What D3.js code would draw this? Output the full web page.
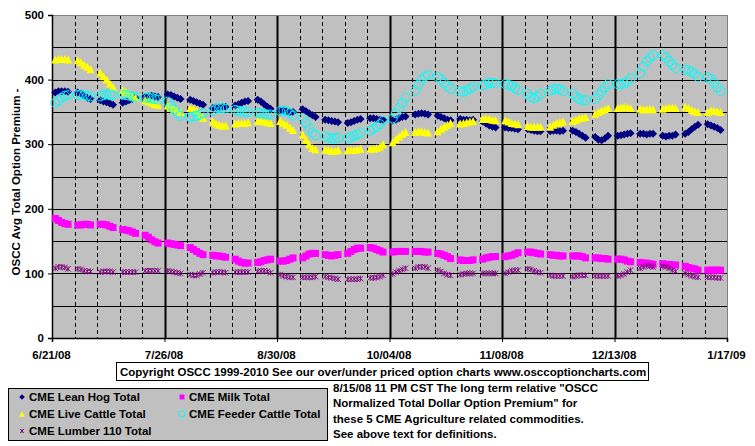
<!DOCTYPE html>
<html><head><meta charset="utf-8">
<script src="https://cdn.jsdelivr.net/npm/d3@7"></script>
<style>
html,body{margin:0;padding:0;background:#fff;}
svg text{font-family:"Liberation Sans",Arial,sans-serif;font-weight:bold;font-size:11.5px;fill:#000;}
</style></head>
<body><svg id="c" width="755" height="446"></svg>
<script>
// ---- data (5 trading-day values per week, 30 weeks from 6/21/08) ----
const startDate = "2008-06-21";
const endDate = "2009-01-17";
const xTickLabels = ["6/21/08","7/26/08","8/30/08","10/04/08","11/08/08","12/13/08","1/17/09"];
const yTickLabels = [0,100,200,300,400,500];

const leanHog = [
 380,382,382,382,381, 380,378,375,372,370, 368,366,365,363,361, 364,366,368,370,372,
 373,374,375,374,373, 377,376,374,372,370, 369,367,365,363,361, 356,357,357,358,358,
 360,362,364,366,367, 369,366,362,358,355, 352,352,351,350,350, 354,351,348,345,342,
 338,337,336,335,334, 333,334,336,338,339, 340,340,339,338,338, 337,338,340,342,343,
 346,347,348,347,346, 344,342,340,338,337, 339,338,338,337,338, 335,332,329,327,326,
 326,325,325,324,323, 323,322,321,320,320, 320,321,321,320,321, 321,319,316,313,310,
 311,307,306,309,313, 313,314,315,316,317, 316,316,315,316,316, 313,312,313,313,315,
 316,319,323,327,330, 331,329,327,325,322];
const milk = [
 185,182,179,177,176, 175,175,176,176,175, 176,176,175,173,171, 168,167,166,164,162,
 159,156,152,149,147, 147,146,145,144,143, 140,137,134,131,129, 128,127,127,126,125,
 122,119,117,116,116, 117,118,120,121,122, 119,119,120,122,124, 124,127,130,131,131,
 129,128,127,128,129, 131,134,137,139,139, 140,139,137,135,133, 133,134,134,134,134,
 134,134,134,133,133, 131,130,128,126,123, 121,120,120,120,121, 122,124,125,126,126,
 126,127,128,130,132, 133,133,132,131,130, 129,128,128,127,127, 127,127,127,126,124,
 124,124,123,123,122, 122,122,121,119,118, 117,116,116,115,114, 115,114,114,113,113,
 111,109,108,107,105, 105,105,105,105,105];
const liveCattle = [
 431,432,432,432,431, 430,427,423,420,416, 411,405,400,394,388, 384,381,378,375,372,
 368,366,364,362,361, 360,357,355,353,350, 356,355,352,346,341, 336,332,330,329,329,
 332,333,333,333,334, 336,336,335,334,333, 336,333,330,326,322, 315,307,300,294,292,
 292,291,290,290,291, 291,291,291,292,293, 293,293,294,296,300, 303,308,312,316,319,
 319,320,320,319,318, 320,324,327,330,333, 332,333,334,335,336, 339,340,339,338,337,
 337,335,333,332,331, 328,327,327,327,327, 327,330,333,334,335, 336,338,340,341,342,
 347,350,352,354,356, 356,357,358,357,356, 355,354,354,355,354, 355,356,357,357,356,
 358,356,353,351,350, 350,352,352,351,350];
const feederCattle = [
 364,368,372,375,376, 376,377,376,375,374, 374,376,377,377,376, 377,376,375,374,373,
 372,372,371,370,369, 366,360,354,348,344, 342,343,344,346,348, 352,355,356,356,355,
 353,352,351,350,350, 349,348,347,346,346, 351,352,351,348,344, 340,333,325,318,314,
 312,310,309,309,310, 309,311,313,315,318, 321,324,327,331,336, 340,348,356,364,372,
 383,392,400,405,407, 404,400,395,390,386, 382,381,383,386,389, 391,393,395,395,394,
 393,392,390,387,384, 378,373,371,374,378, 383,385,386,385,382, 378,374,370,368,368,
 370,376,382,388,393, 393,393,394,397,402, 410,420,428,434,438, 438,434,428,423,418,
 415,414,412,409,404, 404,401,395,388,382];
const lumber = [
 108,110,110,109,107, 107,106,104,103,103, 102,103,103,103,102, 102,102,102,102,102,
 104,104,104,104,104, 104,103,102,101,100,  98, 97, 97, 99,101, 101,102,102,102,101,
 102,102,102,102,102, 103,104,104,103,101,  98, 96, 95, 94, 94,  94, 94, 94, 94, 95,
  95, 94, 93, 92, 91,  91, 91, 91, 91, 92,  93, 93, 94, 95, 97,  99,102,104,106,108,
 108,110,110,110,108, 105,103,100, 98, 97,  98, 99,100,100,100, 100,100,100,100,100,
 100,102,104,105,105, 107,106,104,102,101,  97, 96, 96, 96, 96,  95, 96, 97, 97, 97,
  96, 96, 96, 96, 96,  96, 97, 99,102,105, 108,110,112,111,110, 111,110,108,105,103,
 100, 98, 96, 95, 94,  94, 94, 94, 93, 93];

const seriesNames = ["CME Lean Hog Total","CME Milk Total","CME Live Cattle Total","CME Feeder Cattle Total","CME Lumber 110 Total"];
const noteLines = [
 "8/15/08 11 PM CST The long term relative \"OSCC",
 "Normalized Total Dollar Option Premium\" for",
 "these 5 CME Agriculture related commodities.",
 "See above text for definitions."];
const copyrightText = "Copyright OSCC 1999-2010 See our over/under priced option charts www.osccoptioncharts.com";

// ---- chart ----
const parse = d3.utcParse("%Y-%m-%d");
const d0 = parse(startDate), d1 = parse(endDate);
const dates = [];
for (let w = 0; w < 30; w++) for (let k = 1; k <= 5; k++) dates.push(d3.utcDay.offset(d0, w*7 + k));

const svg = d3.select("#c");
const L = 52, R = 727, T = 15, B = 338;
const x = d3.scaleUtc().domain([d0, d1]).range([L, R]);
const y = d3.scaleLinear().domain([0, 500]).range([B, T]);

svg.append("rect").attr("x", L).attr("y", T).attr("width", R-L).attr("height", B-T).attr("fill", "#C0C0C0");

const weekLines = d3.utcDay.range(d3.utcDay.offset(d0,7), d1, 7);
weekLines.forEach((d, i) => {
  const major = (i + 1) % 5 === 0;
  svg.append("line").attr("x1", Math.round(x(d)) + 0.5).attr("x2", Math.round(x(d)) + 0.5)
    .attr("y1", T).attr("y2", B).attr("stroke", "#000")
    .attr("stroke-width", major ? 2 : 1).attr("stroke-dasharray", major ? null : "4,3");
});
d3.range(50, 500, 50).forEach(v => {
  svg.append("line").attr("x1", L).attr("x2", R).attr("y1", Math.round(y(v)) + 0.5).attr("y2", Math.round(y(v)) + 0.5)
    .attr("stroke", "#000").attr("stroke-width", 1);
});
svg.append("line").attr("x1", L).attr("x2", R).attr("y1", T + 0.5).attr("y2", T + 0.5).attr("stroke", "#808080");
svg.append("line").attr("x1", R + 0.5).attr("x2", R + 0.5).attr("y1", T).attr("y2", B).attr("stroke", "#808080");

const yAxis = d3.axisLeft(y).tickValues(yTickLabels).tickSize(4).tickPadding(4).tickFormat(d3.format("d"));
const gy = svg.append("g").attr("transform", `translate(${L},0)`).call(yAxis);
gy.select(".domain").attr("stroke", "#000").attr("stroke-width", 1.5);
gy.selectAll("text").style("font-size", "11.5px").style("font-weight", "bold").style("font-family", "Liberation Sans, Arial");

const xTickDates = d3.utcDay.range(d0, d3.utcDay.offset(d1, 1), 35);
const xAxis = d3.axisBottom(x).tickValues(xTickDates).tickSize(4).tickPadding(9)
  .tickFormat((d, i) => xTickLabels[i]);
const gx = svg.append("g").attr("transform", `translate(0,${B})`).call(xAxis);
gx.select(".domain").attr("stroke", "#000").attr("stroke-width", 1.5);
gx.selectAll("text").style("font-size", "11.5px").style("font-weight", "bold").style("font-family", "Liberation Sans, Arial").attr("dx", "-1px");

svg.append("text").attr("transform", "translate(20,182) rotate(-90)").attr("text-anchor", "middle")
  .text("OSCC Avg Total Option Premium -");

function diamond(s){ return `M0,${-s}L${s},0L0,${s}L${-s},0Z`; }
function square(s){ return `M${-s},${-s}H${s}V${s}H${-s}Z`; }
function triangle(s){ return `M0,${-s}L${s},${s}L${-s},${s}Z`; }
function star(s){ return `M${-s},${-s}L${s},${s}M${-s},${s}L${s},${-s}M0,${-s}V${s}`; }

const series = [
  {name: seriesNames[0], vals: leanHog, type: "diamond", color: "#000080"},
  {name: seriesNames[1], vals: milk, type: "square", color: "#FF00FF"},
  {name: seriesNames[2], vals: liveCattle, type: "triangle", color: "#FFFF00"},
  {name: seriesNames[3], vals: feederCattle, type: "circle", color: "#00FFFF"},
  {name: seriesNames[4], vals: lumber, type: "star", color: "#800080"}
];

function drawMarker(g, type, color, cx, cy, big) {
  const k = big ? 1 : 0.7;
  if (type === "diamond") g.append("path").attr("d", diamond(4*k)).attr("transform", `translate(${cx},${cy})`).attr("fill", color);
  else if (type === "square") g.append("path").attr("d", square(3.5*k)).attr("transform", `translate(${cx},${cy})`).attr("fill", color);
  else if (type === "triangle") g.append("path").attr("d", triangle(4*k)).attr("transform", `translate(${cx},${cy})`).attr("fill", color);
  else if (type === "circle") g.append("circle").attr("cx", cx).attr("cy", cy).attr("r", 4.5*k).attr("fill", "none").attr("stroke", color).attr("stroke-width", 1);
  else if (type === "star") g.append("path").attr("d", star(2.8*k)).attr("transform", `translate(${cx},${cy})`).attr("fill", "none").attr("stroke", color).attr("stroke-width", 0.9);
}

series.forEach(s => {
  const g = svg.append("g");
  s.vals.forEach((v, i) => drawMarker(g, s.type, s.color, x(dates[i]), y(v), true));
});

svg.append("rect").attr("x", 116.5).attr("y", 362.5).attr("width", 532).attr("height", 18).attr("fill", "#fff").attr("stroke", "#000");
svg.append("text").attr("x", 120).attr("y", 376).text(copyrightText);

svg.append("rect").attr("x", 8.5).attr("y", 388.5).attr("width", 319).attr("height", 52).attr("fill", "#C0C0C0").attr("stroke", "#000");
const legPos = [[22,397],[182,397],[22,414],[182,414],[22,431]];
series.forEach((s, i) => {
  const [lx, ly] = legPos[i];
  drawMarker(svg, s.type, s.color, lx, ly, false);
  svg.append("text").attr("x", lx + 7).attr("y", ly + 4).text(s.name);
});

noteLines.forEach((t, i) => {
  svg.append("text").attr("x", 333).attr("y", 392 + i*15.3).text(t);
});
</script></body></html>
